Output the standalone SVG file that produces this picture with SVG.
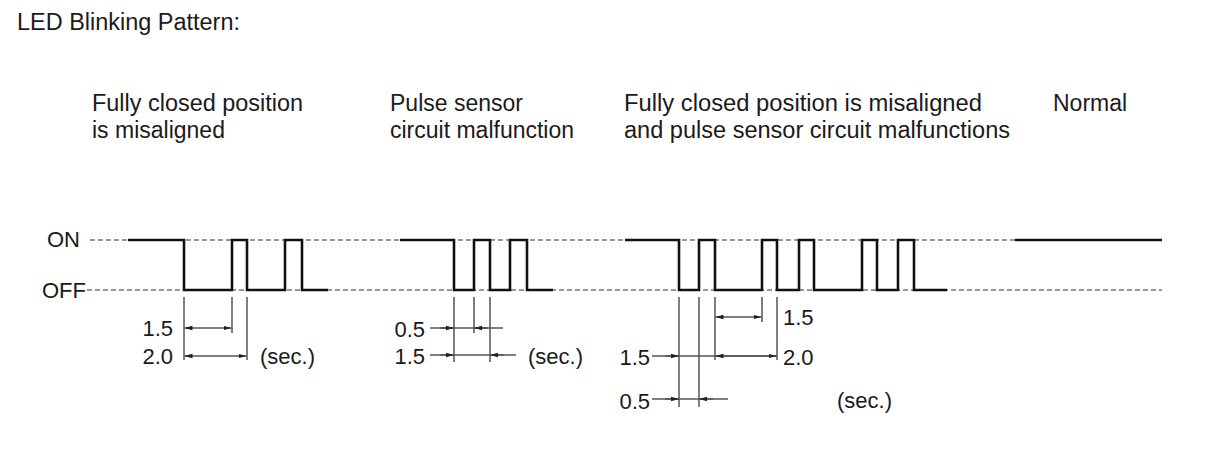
<svg xmlns="http://www.w3.org/2000/svg" width="1210" height="474" viewBox="0 0 1210 474">
<defs>
<style>
text{font-family:"Liberation Sans",Arial,sans-serif;fill:#1a1a1a;}
.h{font-size:23px;}
.n{font-size:22px;}
.dash{stroke:#777;stroke-width:1.5;stroke-dasharray:5 3;fill:none;}
.wave{stroke:#111;stroke-width:2.6;fill:none;stroke-linejoin:miter;}
.ext{stroke:#555;stroke-width:1.5;fill:none;}
.dim{stroke:#555;stroke-width:1.5;fill:none;}
.arr{stroke:#555;stroke-width:1.5;fill:none;marker-end:url(#ah);}
.arr2{stroke:#555;stroke-width:1.5;fill:none;marker-start:url(#ah);marker-end:url(#ah);}
</style>
<marker id="ah" viewBox="0 0 8 6" refX="8" refY="3" markerWidth="8" markerHeight="6" markerUnits="userSpaceOnUse" orient="auto-start-reverse">
<path d="M0,0.8 L8,3 L0,5.2 Z" fill="#222"/>
</marker>
</defs>
<rect width="1210" height="474" fill="#fff"/>
<text id="title" class="h" x="17" y="30" textLength="223" lengthAdjust="spacingAndGlyphs">LED Blinking Pattern:</text>

<g id="axis">
<text class="n" x="47" y="247">ON</text>
<text class="n" x="42" y="298">OFF</text>
<line class="dash" x1="90" y1="240" x2="1162" y2="240"/>
<line class="dash" x1="87" y1="290" x2="1162" y2="290"/>
</g>

<g id="case1">
<text class="h" x="92" y="111" textLength="211" lengthAdjust="spacingAndGlyphs">Fully closed position</text>
<text class="h" x="92" y="138">is misaligned</text>
<path class="wave" d="M128,240 H184 V290 H232 V240 H247 V290 H285 V240 H302 V290 H328"/>
<text class="n" x="173" y="336" text-anchor="end">1.5</text>
<text class="n" x="173" y="364" text-anchor="end">2.0</text>
<text class="n" x="260" y="364">(sec.)</text>
</g>

<g id="case2">
<text class="h" x="390" y="111">Pulse sensor</text>
<text class="h" x="390" y="138">circuit malfunction</text>
<path class="wave" d="M400,240 H454 V290 H474 V240 H490 V290 H510 V240 H527 V290 H553"/>
<text class="n" x="425" y="337" text-anchor="end">0.5</text>
<text class="n" x="425" y="364" text-anchor="end">1.5</text>
<text class="n" x="528" y="364">(sec.)</text>
</g>

<g id="case3">
<text class="h" x="624" y="111" textLength="358" lengthAdjust="spacingAndGlyphs">Fully closed position is misaligned</text>
<text class="h" x="624" y="138" textLength="386" lengthAdjust="spacingAndGlyphs">and pulse sensor circuit malfunctions</text>
<path class="wave" d="M625,240 H679 V290 H699 V240 H715 V290 H762 V240 H777 V290 H799 V240 H814 V290 H862 V240 H877 V290 H898 V240 H914 V290 H947"/>
<text class="n" x="783" y="325">1.5</text>
<text class="n" x="650" y="365" text-anchor="end">1.5</text>
<text class="n" x="783" y="365">2.0</text>
<text class="n" x="650" y="409" text-anchor="end">0.5</text>
<text class="n" x="837" y="408">(sec.)</text>
</g>

<g id="case4">
<text class="h" x="1053" y="111">Normal</text>
<path class="wave" d="M1015,240 H1162"/>
</g>

<g id="connectors">
<!-- case 1 -->
<line class="ext" x1="184" y1="297" x2="184" y2="360"/>
<line class="ext" x1="232" y1="297" x2="232" y2="333"/>
<line class="ext" x1="247" y1="297" x2="247" y2="360"/>
<line class="arr2" x1="184.5" y1="328" x2="231.5" y2="328"/>
<line class="arr2" x1="184.5" y1="356" x2="246.5" y2="356"/>
<!-- case 2 -->
<line class="ext" x1="454" y1="297" x2="454" y2="362"/>
<line class="ext" x1="474" y1="297" x2="474" y2="333"/>
<line class="ext" x1="490" y1="297" x2="490" y2="362"/>
<line class="dim" x1="430" y1="328" x2="503" y2="328"/>
<line class="arr" x1="440" y1="328" x2="454" y2="328"/>
<line class="arr" x1="488" y1="328" x2="474" y2="328"/>
<line class="dim" x1="430" y1="355" x2="516" y2="355"/>
<line class="arr" x1="440" y1="355" x2="454" y2="355"/>
<line class="arr" x1="504" y1="355" x2="490" y2="355"/>
<!-- case 3 -->
<line class="ext" x1="679" y1="297" x2="679" y2="407"/>
<line class="ext" x1="699" y1="297" x2="699" y2="407"/>
<line class="ext" x1="715" y1="297" x2="715" y2="360"/>
<line class="ext" x1="762" y1="297" x2="762" y2="322"/>
<line class="ext" x1="777" y1="297" x2="777" y2="360"/>
<line class="arr2" x1="715.5" y1="317" x2="761.5" y2="317"/>
<line class="dim" x1="652" y1="356" x2="777" y2="356"/>
<line class="arr" x1="665" y1="356" x2="679" y2="356"/>
<line class="arr2" x1="715.5" y1="356" x2="776.5" y2="356"/>
<line class="dim" x1="652" y1="399" x2="728" y2="399"/>
<line class="arr" x1="665" y1="399" x2="679" y2="399"/>
<line class="arr" x1="713" y1="399" x2="699" y2="399"/>
</g>
</svg>
